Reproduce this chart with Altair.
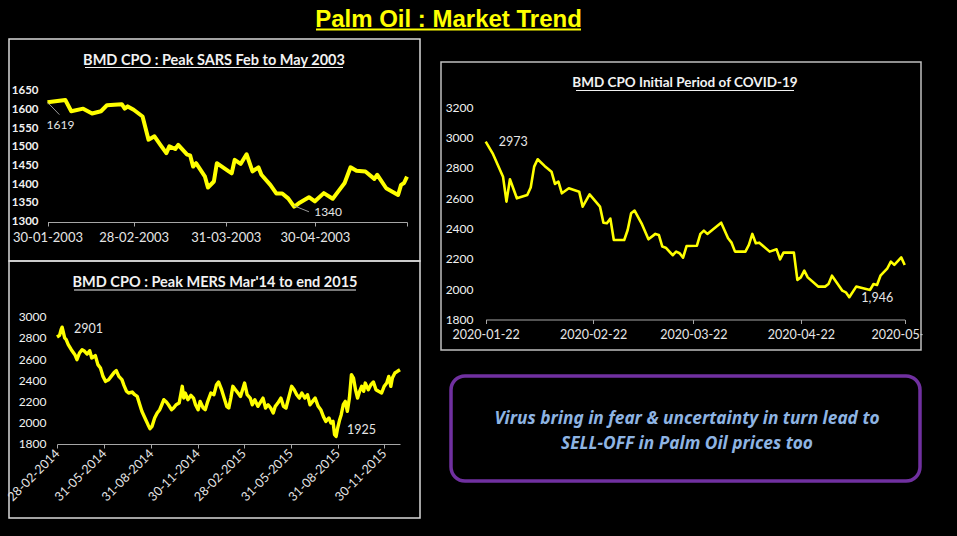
import altair as alt
import pandas as pd

W, H = 957, 536
FONT = "Lato"
YELLOW = "#FFFF00"
AXIS_GREY = "#A6A6A6"
LABEL = "#E6E6E6"

# ---------------- data ----------------
# SARS 2003 : days after 30-01-2003, price
sars_start = "2003-01-30"
sars_day = [0, 6, 8, 12, 15, 18, 20, 25, 26, 27,
            29, 32, 34, 36, 38, 40, 41, 43, 44, 47,
            48, 49, 50, 53, 54, 56, 57, 61, 62, 63,
            65, 67, 69, 71, 72, 75, 77, 79, 81, 83,
            84, 85, 88, 90, 93, 96, 98, 100, 102, 104,
            107, 110, 111, 114, 118, 119, 120, 121]
sars_val = [1619, 1625, 1595, 1602, 1589, 1595, 1611, 1614, 1602, 1608,
            1599, 1581, 1519, 1528, 1505, 1483, 1501, 1494, 1505, 1479,
            1477, 1447, 1456, 1420, 1391, 1407, 1456, 1434, 1429, 1465,
            1454, 1480, 1434, 1445, 1425, 1398, 1375, 1375, 1362, 1340,
            1345, 1351, 1365, 1354, 1376, 1361, 1382, 1403, 1445, 1436,
            1434, 1414, 1425, 1389, 1371, 1398, 1403, 1420]
sars_yticks = [1300, 1350, 1400, 1450, 1500, 1550, 1600, 1650]
sars_xticks = ["2003-01-30", "2003-02-28", "2003-03-31", "2003-04-30", "2003-05-31"]

# MERS 2014-2015 : days after 28-02-2014, price
mers_start = "2014-02-28"
mers_day = [0, 5, 8, 10, 15, 18, 22, 28, 35, 39,
            44, 49, 54, 59, 64, 68, 75, 80, 85, 90,
            95, 101, 106, 112, 116, 121, 127, 131, 136, 140,
            147, 152, 157, 162, 166, 172, 178, 182, 186, 191,
            196, 201, 205, 209, 214, 218, 224, 228, 233, 239,
            242, 245, 248, 251, 256, 262, 267, 271, 276, 280,
            286, 290, 295, 301, 307, 312, 316, 322, 327, 332,
            336, 340, 344, 349, 354, 359, 363, 367, 372, 378,
            382, 387, 393, 399, 403, 408, 413, 418, 423, 427,
            432, 438, 443, 448, 453, 459, 464, 469, 474, 479,
            485, 490, 495, 500, 505, 511, 516, 521, 526, 532,
            536, 540, 543, 546, 549, 553, 556, 560, 564, 568,
            572, 576, 580, 584, 588, 592, 596, 600, 603, 609,
            614, 619, 624, 629, 635, 640, 645, 649, 653, 656,
            661, 666, 671]
mers_val = [2808, 2824, 2877, 2901, 2799, 2783, 2736, 2688, 2641, 2594,
            2657, 2688, 2673, 2647, 2679, 2610, 2632, 2547, 2515, 2436,
            2389, 2405, 2436, 2474, 2490, 2436, 2405, 2351, 2295, 2279,
            2288, 2263, 2247, 2168, 2106, 2043, 1980, 1942, 1964, 2043,
            2090, 2121, 2168, 2216, 2194, 2168, 2121, 2137, 2168, 2184,
            2263, 2342, 2231, 2279, 2216, 2257, 2231, 2168, 2121, 2200,
            2137, 2121, 2200, 2279, 2263, 2357, 2383, 2310, 2231, 2153,
            2137, 2231, 2342, 2310, 2279, 2247, 2310, 2373, 2263, 2231,
            2168, 2216, 2153, 2200, 2231, 2137, 2168, 2137, 2090, 2153,
            2184, 2231, 2153, 2137, 2231, 2342, 2310, 2263, 2231, 2279,
            2231, 2263, 2168, 2200, 2231, 2153, 2121, 2058, 2011, 2043,
            1995, 2011, 1885, 1869, 1948, 2027, 2074, 2168, 2200, 2106,
            2231, 2452, 2420, 2310, 2231, 2295, 2342, 2295, 2373, 2310,
            2357, 2383, 2310, 2295, 2279, 2342, 2373, 2436, 2342, 2420,
            2468, 2484, 2499]
mers_yticks = [1800, 2000, 2200, 2400, 2600, 2800, 3000]
mers_xticks = ["2014-02-28", "2014-05-31", "2014-08-31", "2014-11-30",
               "2015-02-28", "2015-05-31", "2015-08-31", "2015-11-30"]
mers_xend = "2015-12-31"

# COVID-19 2020 : days after 22-01-2020, price
covid_start = "2020-01-22"
covid_day = [0, 2, 5, 6, 7, 9, 12, 13, 14, 15,
             17, 19, 20, 21, 22, 24, 27, 28, 30, 33,
             34, 35, 36, 37, 40, 41, 42, 43, 45, 47,
             49, 50, 51, 52, 54, 55, 56, 57, 58, 61,
             62, 63, 64, 68, 70, 71, 72, 75, 76, 77,
             78, 79, 82, 84, 85, 86, 89, 90, 91, 92,
             93, 96, 98, 99, 100, 103, 104, 105, 107, 111,
             112, 113, 114, 116, 117, 118, 120, 121]
covid_val = [2973, 2896, 2742, 2577, 2725, 2599, 2621, 2670, 2808, 2857,
             2813, 2775, 2694, 2709, 2632, 2665, 2643, 2544, 2625, 2544,
             2438, 2434, 2465, 2324, 2324, 2390, 2500, 2518, 2434, 2328,
             2364, 2357, 2280, 2273, 2223, 2247, 2236, 2207, 2284, 2286,
             2364, 2386, 2364, 2438, 2335, 2306, 2247, 2247, 2291, 2364,
             2302, 2306, 2247, 2262, 2196, 2240, 2240, 2060, 2077, 2121,
             2077, 2016, 2016, 2033, 2088, 1989, 1978, 1946, 2016, 1994,
             2033, 2027, 2088, 2137, 2181, 2159, 2209, 2159]
covid_yticks = [1800, 2000, 2200, 2400, 2600, 2800, 3000, 3200]
covid_xticks = ["2020-01-22", "2020-02-22", "2020-03-22", "2020-04-22", "2020-05-22"]

main_title = "Palm Oil : Market Trend"
sars_title = "BMD CPO : Peak SARS Feb to May 2003"
mers_title = "BMD CPO : Peak MERS Mar'14 to end 2015"
covid_title = "BMD CPO Initial Period of COVID-19"
note_lines = ["Virus bring in fear & uncertainty in turn lead to",
              "SELL-OFF in Palm Oil prices too"]


# ---------------- helpers ----------------
def series(start, days, vals):
    d = pd.to_datetime(start) + pd.to_timedelta(days, unit="D")
    return pd.DataFrame({"date": d, "value": vals})


def dt(s):
    y, m, d = (int(p) for p in s.split("-"))
    return alt.DateTime(year=y, month=m, date=d)


one = pd.DataFrame({"k": [0]})


def box(x1, x2, y1, y2, **kw):
    return alt.Chart(one).mark_rect(**kw).encode(
        x=alt.value(x1), x2=alt.value(x2), y=alt.value(y1), y2=alt.value(y2))


def text_at(txt, x, y, **kw):
    return alt.Chart(pd.DataFrame({"t": [txt]})).mark_text(**kw).encode(
        x=alt.value(x), y=alt.value(y), text="t:N")


def hline(x1, x2, y, color, w):
    return alt.Chart(one).mark_rule(color=color, strokeWidth=w).encode(
        x=alt.value(x1), x2=alt.value(x2), y=alt.value(y))


def ann(date, value, label, dx, dy, align="left", size=12):
    df = pd.DataFrame({"date": [pd.to_datetime(date)], "value": [value], "label": [label]})
    return alt.Chart(df).mark_text(font=FONT, fontSize=size, color=LABEL, align=align,
                                   baseline="middle", dx=dx, dy=dy).encode(
        x="date:T", y="value:Q", text="label:N")


def xaxis(offset_y, values, fmt, **kw):
    return alt.Axis(orient="bottom", offset=offset_y - H, values=[dt(v) for v in values],
                    format=fmt, grid=False, domainColor=AXIS_GREY, domainWidth=1.2,
                    tickColor=AXIS_GREY, tickSize=4, labelColor=LABEL, labelFont=FONT,
                    labelFlush=False, labelOverlap=False, title=None, zindex=0, **kw)


def yaxis(axis_x, values, **kw):
    return alt.Axis(orient="left", offset=-axis_x, values=values, format="d", grid=False,
                    domain=False, ticks=False, labelColor="#F2F2F2", labelFont=FONT,
                    labelFlush=False, labelOverlap=False, title=None, labelPadding=3,
                    zindex=0, **kw)


# ---------------- panel 1 : SARS ----------------
sars = series(sars_start, sars_day, sars_val)
sx = alt.X("date:T", scale=alt.Scale(domain=[dt(sars_xticks[0]), dt(sars_xticks[-1])],
                                      range=[47.5, 407], nice=False),
           axis=xaxis(222, sars_xticks, "%d-%m-%Y", labelFontSize=13, labelPadding=5,
                      labelExpr="datum.value >= datetime(2003, 4, 15) ? '' : timeFormat(datum.value, '%d-%m-%Y')"))
sy = alt.Y("value:Q", scale=alt.Scale(domain=[1300, 1650], range=[221.5, 90.7], nice=False, zero=False),
           axis=yaxis(41, sars_yticks, labelFontSize=11.5, labelFontWeight="bold"))
sars_line = alt.Chart(sars).mark_line(color=YELLOW, strokeWidth=4, strokeJoin="round").encode(x=sx, y=sy)
sars_lead = alt.Chart(pd.DataFrame({
    "date": pd.to_datetime(["2003-01-30", "2003-04-23"]),
    "date2": pd.to_datetime(["2003-02-03", "2003-04-28"]),
    "value": [1619, 1342], "value2": [1586, 1326]})).mark_rule(
    color="#9A9A9A", strokeWidth=1).encode(x="date:T", x2="date2:T", y="value:Q", y2="value2:Q")
panel1 = alt.layer(sars_line, sars_lead,
                   ann("2003-01-30", 1619, "1619", 13, 23, align="center"),
                   ann("2003-04-23", 1340, "1340", 34, 5, align="center"))

# ---------------- panel 2 : MERS ----------------
mers = series(mers_start, mers_day, mers_val)
mx = alt.X("date:T", scale=alt.Scale(domain=[dt(mers_start), dt(mers_xend)], range=[57, 400], nice=False),
           axis=xaxis(444, mers_xticks, "%d-%m-%Y", labelFontSize=12.5, labelAngle=-45,
                      labelAlign="right", labelBaseline="middle", labelPadding=3))
my = alt.Y("value:Q", scale=alt.Scale(domain=[1800, 3000], range=[443.7, 316.7], nice=False, zero=False),
           axis=yaxis(49, mers_yticks, labelFontSize=12))
mers_line = alt.Chart(mers).mark_line(color=YELLOW, strokeWidth=3.4, strokeJoin="round").encode(x=mx, y=my)
panel2 = alt.layer(mers_line,
                   ann("2014-03-10", 2901, "2901", 12, 2, size=12.5),
                   ann("2015-08-28", 1869, "1925", 11, -6, size=12.5))

# ---------------- panel 3 : COVID ----------------
covid = series(covid_start, covid_day, covid_val)
cx = alt.X("date:T", scale=alt.Scale(domain=[dt(covid_xticks[0]), dt(covid_xticks[-1])],
                                      range=[485.7, 904.7], nice=False),
           axis=xaxis(319.5, covid_xticks, "%Y-%m-%d", labelFontSize=12.5, labelPadding=5))
cy = alt.Y("value:Q", scale=alt.Scale(domain=[1800, 3200], range=[319.3, 107.3], nice=False, zero=False),
           axis=yaxis(476, covid_yticks, labelFontSize=12))
covid_line = alt.Chart(covid).mark_line(color=YELLOW, strokeWidth=2.6, strokeJoin="round").encode(x=cx, y=cy)
panel3 = alt.layer(covid_line,
                   ann("2020-01-22", 2973, "2973", 13, 0, size=12.5),
                   ann("2020-05-06", 1946, "1,946", 12, 1, size=12.5))

# ---------------- decorations ----------------
FRAME = "#D9D9D9"
frames = [
    box(9, 420, 39, 261, fillOpacity=0, stroke=FRAME, strokeWidth=1.5),
    box(9, 420, 261, 518, fillOpacity=0, stroke=FRAME, strokeWidth=1.5),
    box(441, 921, 62, 350, fillOpacity=0, stroke="#BFBFBF", strokeWidth=1.5),
]
titles = [
    text_at(main_title, 448.5, 27, font="Liberation Sans", fontWeight="bold", fontSize=24,
            color=YELLOW, align="center", baseline="alphabetic"),
    hline(316, 581, 29.5, YELLOW, 2),
    text_at(sars_title, 214, 65, font=FONT, fontWeight="bold", fontSize=14.5, color="#F2F2F2",
            align="center", baseline="alphabetic"),
    hline(85, 343, 67.5, "#F2F2F2", 1),
    text_at(mers_title, 215, 287, font=FONT, fontWeight="bold", fontSize=14.5, color="#F2F2F2",
            align="center", baseline="alphabetic"),
    hline(74, 356, 290, "#F2F2F2", 1),
    text_at(covid_title, 685, 87, font=FONT, fontWeight="bold", fontSize=13.5, color="#F2F2F2",
            align="center", baseline="alphabetic"),
    hline(576, 794, 90.5, "#F2F2F2", 1),
]
NOTE_FONT = "Noto Sans"
note = [
    box(451, 920, 376, 481, fillOpacity=0, stroke="#7030A0", strokeWidth=3.5, cornerRadius=14),
    text_at(note_lines[0], 687, 424, font=NOTE_FONT, fontStyle="italic", fontWeight="bold",
            fontSize=17.3, color="#8EB4E3", align="center", baseline="alphabetic"),
    text_at(note_lines[1], 687, 449, font=NOTE_FONT, fontStyle="italic", fontWeight="bold",
            fontSize=17.3, color="#8EB4E3", align="center", baseline="alphabetic"),
]
clip = box(922.5, 957, 321, 352, fill="#000000")

chart = alt.layer(*frames, panel1, panel2, panel3, *titles, clip, *note).resolve_scale(
    x="independent", y="independent"
).properties(
    width=W, height=H, padding=0,
    autosize=alt.AutoSizeParams(type="none"),
    background="#000000",
).configure_view(stroke=None)

chart.save("out.html", embed_options={"renderer": "svg", "actions": False})
